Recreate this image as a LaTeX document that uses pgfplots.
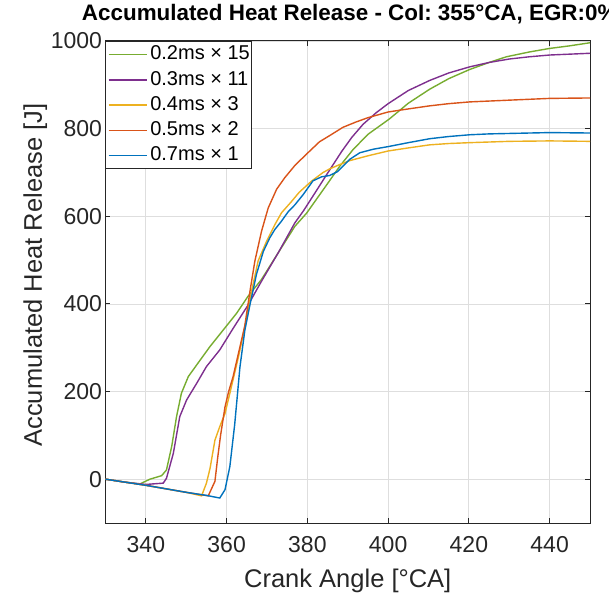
\documentclass[border=0pt]{standalone}
\usepackage{fontspec}
\setmainfont{Liberation Sans}
\usepackage{pgfplots}
\pgfplotsset{compat=1.18}
\definecolor{mblue}{rgb}{0,0.447,0.741}
\definecolor{morange}{rgb}{0.85,0.325,0.098}
\definecolor{myellow}{rgb}{0.929,0.694,0.125}
\definecolor{mpurple}{rgb}{0.494,0.184,0.556}
\definecolor{mgreen}{rgb}{0.466,0.674,0.188}
\definecolor{axgray}{rgb}{0.15,0.15,0.15}
\definecolor{gridgray}{rgb}{0.87,0.87,0.87}
\begin{document}
\begin{tikzpicture}
\begin{axis}[
  at={(0,0)}, anchor=south west,
  scale only axis, width=484.5pt, height=482pt,
  xmin=330, xmax=450, ymin=-100, ymax=1000,
  xtick={340,360,...,440}, ytick={0,200,...,1000},
  grid=major, major grid style={color=gridgray, line width=0.8pt},
  axis line style={color=axgray, line width=1pt},
  tick style={color=axgray, line width=1pt},
  major tick length=5pt,
  tick align=inside,
  /pgf/number format/assume math mode=true,
  /pgf/number format/1000 sep={},
  ticklabel style={font=\fontsize{23}{27}\selectfont, color=axgray},
  xticklabel style={yshift=-10pt},
  xlabel={Crank Angle [°CA]},
  ylabel={Accumulated Heat Release [J]},
  label style={font=\fontsize{25.5}{30}\selectfont, color=axgray},
  xlabel style={at={(axis description cs:0.5,-0.1328)}, anchor=base},
  ylabel style={at={(axis description cs:-0.1311,0.5145)}, anchor=base},
  title={Accumulated Heat Release - CoI: 355°CA, EGR:0\%},
  title style={at={(axis description cs:0.5,1)}, anchor=base, yshift=14pt, xshift=2pt,
    font=\bfseries\fontsize{22.4}{27}\selectfont, color=black},
  every axis plot/.append style={line width=1.4pt},
  legend cell align=left,
  legend image code/.code={\draw[#1, line width=1.4pt] (0pt,0pt) -- (38pt,0pt);},
  legend style={at={(0,1)}, anchor=north west, draw=axgray, line width=0.8pt, fill=white,
    font=\fontsize{20}{24}\selectfont, text=black,
    inner xsep=2pt, inner ysep=4pt, row sep=6.7pt, column sep=3pt,
    nodes={inner sep=0pt, text height=14.5pt, text depth=4pt, anchor=west}},
]
% 0.2ms x 15
\addplot[color=mgreen] coordinates {
(330,0) (335,-7) (338.5,-11) (341,0) (343.9,8) (345.1,21) (346.4,75) (347.6,143)
(348.8,196) (350.5,234) (352.6,261) (355.9,303) (359.2,341) (362.5,379) (365.35,418)
(368.65,456) (372.8,517) (376.9,577) (379.8,607) (384.8,672) (388,714) (391.3,752)
(395,787) (400.3,822) (405,858) (410.3,890) (415,914) (420.2,935) (425,951)
(429.3,964) (435,975) (440,983) (445,989) (450,996)};
\addlegendentry{0.2ms × 15}
% 0.3ms x 11
\addplot[color=mpurple] coordinates {
(330,0) (335,-7) (340,-12) (344.3,-9) (345.1,2) (346.8,59) (348.4,143) (350.1,181)
(352.6,219) (355,257) (358.3,295) (361.6,344) (365.35,398) (368.65,452) (372.8,517)
(376.9,585) (379,612) (382,655) (384.7,694) (388.5,748) (391,780) (393.8,810) (397,836) (400,857)
(405,887) (410.3,910) (415,927) (420.2,941) (425,951) (430.1,959) (435,964)
(440,968) (445,970) (450,972)};
\addlegendentry{0.3ms × 11}
% 0.4ms x 3
\addplot[color=myellow] coordinates {
(330,0) (335,-7) (340,-14) (345,-22) (350,-30) (353.8,-38) (355,-9) (355.9,25)
(357.1,89) (358.3,120) (359.6,150) (360.8,196) (362.9,278) (364.5,347) (366.2,430)
(367.8,498) (369.9,543) (371.95,581) (373.6,608) (376.1,634) (378,655) (381,680)
(383.9,700) (385.5,708) (388,718) (390.5,727) (395,738) (400,749) (405,756)
(410.3,763) (415,766) (420.2,768) (430,771) (440,772) (450,771)};
\addlegendentry{0.4ms × 3}
% 0.5ms x 2
\addplot[color=morange] coordinates {
(330,0) (335,-7) (340,-14) (345,-22) (350,-30) (355.45,-38) (356.3,-21) (357.1,-5)
(357.8,50) (358.5,100) (359.6,165) (360.5,200) (361.6,234) (362.9,286) (364.5,350)
(365.8,430) (367,498) (368.65,566) (370.3,619) (372.4,662) (374.4,688) (377,717)
(380.6,749) (383,770) (385.5,784) (388.8,803) (392,815) (395,825) (400,838)
(405,845) (410.3,852) (415,857) (420.2,861) (430,865) (440,869) (450,870)};
\addlegendentry{0.5ms × 2}
% 0.7ms x 1
\addplot[color=mblue] coordinates {
(330,0) (335,-7) (340,-14) (345,-22) (350,-30) (355,-37) (358.3,-43) (359.6,-24)
(360.8,29) (362,125) (363.3,256) (364.5,339) (365.8,399) (367.4,468) (369.1,520)
(370.7,551) (371.95,570) (373.6,589) (375.3,611) (376.9,626) (379,650) (381.4,681)
(383.5,690) (385.5,693) (387.5,702) (390.5,730) (393,745) (396.3,753) (400,759)
(405,768) (410.3,777) (415,782) (420.2,786) (425,788) (430,789) (440,791) (450,790)};
\addlegendentry{0.7ms × 1}
\end{axis}
\pgfresetboundingbox
\useasboundingbox (-105.5pt,-69pt) rectangle (503.5pt,523pt);
\end{tikzpicture}
\end{document}
